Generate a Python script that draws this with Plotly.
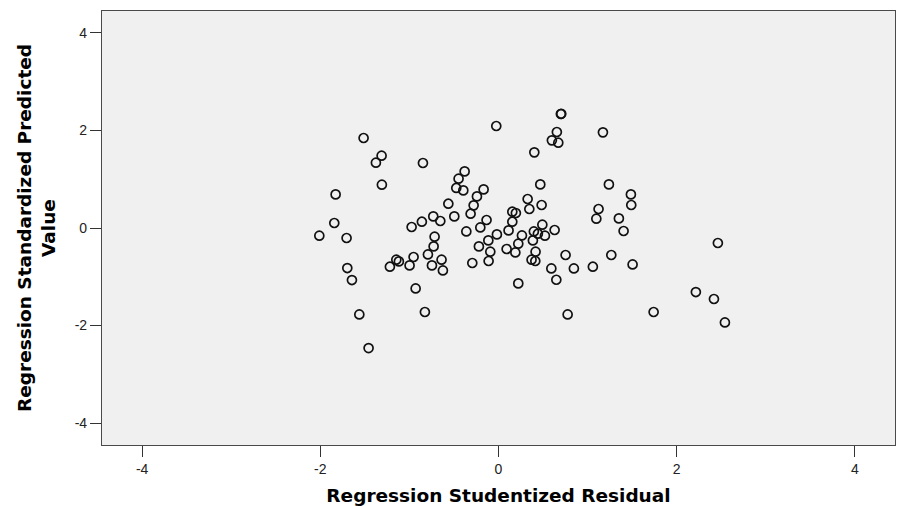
import plotly.graph_objects as go

# Regression Studentized Residual (x) and Regression Standardized Predicted Value (y)
studentized_residual = [
    -1.514, -1.312, -1.376, -0.848, -1.309, -1.828, -1.843, -2.011, -1.705, -1.697,
    -1.645, -1.562, -1.458, -0.025, 0.700, 0.704, 0.655, 0.599, 0.671, 0.402,
    -0.380, -0.448, -0.474, -0.395, -0.167, -0.242, -0.563, -0.279, -0.313, -0.496,
    -0.732, -0.860, -0.653, -0.975, -0.717, -0.728, -0.792, -0.639, -0.747, -0.624,
    -0.953, -1.147, -1.118, -0.998, -1.219, -0.930, -0.826, -0.361, -0.204, -0.134,
    -0.220, -0.114, -0.092, -0.111, -0.018, -0.294, 0.113, 0.155, 0.155, 0.195,
    0.263, 0.222, 0.091, 0.189, 0.222, 0.327, 0.346, 0.469, 0.484, 0.492,
    0.397, 0.442, 0.521, 0.386, 0.416, 0.371, 0.413, 0.630, 0.753, 0.593,
    0.846, 0.649, 0.776, 1.172, 1.239, 1.486, 1.490, 1.123, 1.098, 1.351,
    1.404, 2.462, 1.059, 1.266, 1.505, 2.215, 2.418, 2.541, 1.741,
]
standardized_predicted = [
    1.846, 1.483, 1.339, 1.333, 0.888, 0.689, 0.103, -0.158, -0.205, -0.821,
    -1.067, -1.772, -2.462, 2.092, 2.338, 2.342, 1.969, 1.797, 1.750, 1.551,
    1.161, 1.011, 0.821, 0.771, 0.792, 0.648, 0.498, 0.464, 0.293, 0.238,
    0.238, 0.129, 0.144, 0.021, -0.178, -0.377, -0.542, -0.650, -0.767, -0.870,
    -0.595, -0.650, -0.685, -0.767, -0.794, -1.239, -1.723, -0.070, 0.012, 0.164,
    -0.377, -0.254, -0.486, -0.677, -0.131, -0.718, -0.049, 0.129, 0.334, 0.308,
    -0.152, -0.322, -0.431, -0.501, -1.136, 0.595, 0.390, 0.894, 0.472, 0.068,
    -0.070, -0.117, -0.158, -0.254, -0.486, -0.650, -0.677, -0.041, -0.554, -0.829,
    -0.829, -1.061, -1.772, 1.961, 0.894, 0.689, 0.472, 0.390, 0.191, 0.197,
    -0.062, -0.308, -0.794, -0.554, -0.747, -1.313, -1.456, -1.936, -1.723,
]

tick_values = [-4, -2, 0, 2, 4]
tick_labels = ["-4", "-2", "0", "2", "4"]

fig = go.Figure()
fig.add_trace(go.Scatter(
    x=studentized_residual,
    y=standardized_predicted,
    mode="markers",
    marker=dict(symbol="circle-open", size=9, color="#111111",
                line=dict(width=1.7, color="#111111")),
    showlegend=False,
    hoverinfo="x+y",
))

axis_common = dict(
    showgrid=False, zeroline=False,
    showline=True, linecolor="#4a4a4a", linewidth=1.2, mirror=True,
    ticks="outside", ticklen=11, tickwidth=1, tickcolor="#333333",
    tickmode="array", tickvals=tick_values, ticktext=tick_labels,
    tickfont=dict(family="Liberation Sans, Arial, sans-serif", size=14, color="#222222"),
)

fig.update_layout(
    width=897, height=506,
    margin=dict(l=102, r=2, t=11, b=61),
    paper_bgcolor="white",
    plot_bgcolor="#F0F0F0",
    xaxis=dict(
        range=[-4.45, 4.45],
        title=dict(text="<b>Regression Studentized Residual</b>",
                   font=dict(family="DejaVu Sans, sans-serif", size=18.5, color="black"),
                   standoff=20),
        automargin=False,
        **axis_common,
    ),
    yaxis=dict(
        range=[-4.45, 4.45],
        title=dict(text="<b>Regression Standardized Predicted</b><br><b>Value</b>",
                   font=dict(family="DejaVu Sans, sans-serif", size=18.5, color="black"),
                   standoff=14),
        automargin=False,
        **axis_common,
    ),
)

fig.write_html(
    "out.html",
    config={"responsive": False, "displayModeBar": False},
    post_script=(
        "document.body.style.margin='0px';"
        "document.body.style.overflow='hidden';"
        "Plotly.relayout(document.getElementById('{plot_id}'), {width: 897, height: 506});"
    ),
)
